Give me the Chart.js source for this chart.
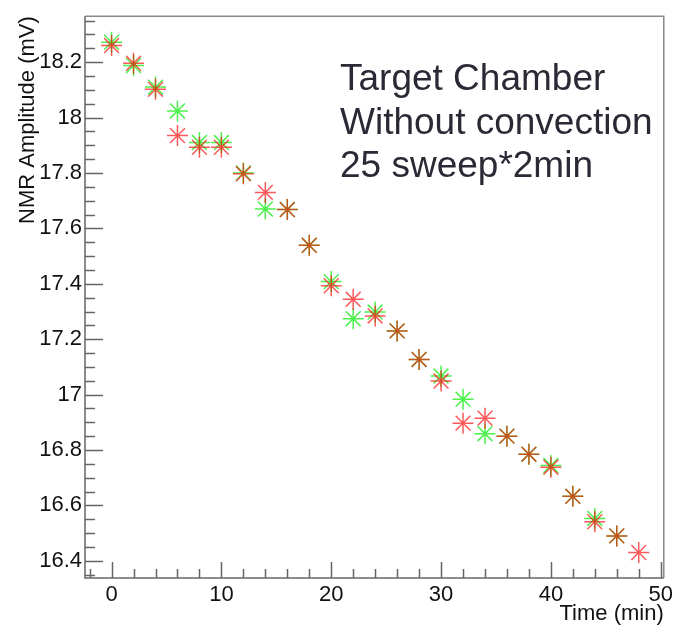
<!DOCTYPE html>
<html>
<head>
<meta charset="utf-8">
<script src="https://cdn.jsdelivr.net/npm/chart.js@4.4.0/dist/chart.umd.min.js"></script>
<style>
  body { margin: 0; background: #fff; }
  #wrap { width: 677px; height: 627px; }
</style>
</head>
<body>
<div id="wrap"><canvas id="myChart" width="677" height="627"></canvas></div>
<script>
// time points (min)
const timeGreen = [0, 2, 4, 6, 8, 10, 12, 14, 16, 18, 20, 22, 24, 26, 28, 30, 32, 34, 36, 38, 40, 42, 44, 46];
const timeRed = [0, 2, 4, 6, 8, 10, 12, 14, 16, 18, 20, 22, 24, 26, 28, 30, 32, 34, 36, 38, 40, 42, 44, 46, 48];
// NMR amplitude (mV)
const ampGreen = [18.272, 18.188, 18.110, 18.024, 17.910, 17.910, 17.800, 17.670, 17.668, 17.539, 17.408, 17.274,
  17.298, 17.230, 17.127, 17.067, 16.983, 16.859, 16.850, 16.785, 16.744, 16.633, 16.553, 16.490];
const ampRed = [18.260, 18.196, 18.102, 17.935, 17.893, 17.893, 17.797, 17.730, 17.668, 17.539, 17.393, 17.344,
  17.284, 17.230, 17.127, 17.049, 16.897, 16.915, 16.850, 16.785, 16.738, 16.633, 16.541, 16.490, 16.430];

const xTicks = [0, 10, 20, 30, 40, 50];
const yTicks = [16.4, 16.6, 16.8, 17, 17.2, 17.4, 17.6, 17.8, 18, 18.2];
const noteLines = ['Target Chamber', 'Without convection', '25 sweep*2min'];

const toPoints = (xs, ys) => xs.map((x, i) => ({ x: x, y: ys[i] }));

// ROOT-style frame with inward ticks
const frame = {
  id: 'frame',
  afterDraw(chart) {
    const ctx = chart.ctx;
    const a = chart.chartArea;
    const xs = chart.scales.x, ys = chart.scales.y;
    ctx.save();
    ctx.lineWidth = 1.5;
    ctx.strokeStyle = '#8a8a8a';
    ctx.beginPath();
    ctx.moveTo(a.left, a.top); ctx.lineTo(a.right, a.top); ctx.lineTo(a.right, a.bottom);
    ctx.stroke();
    ctx.strokeStyle = '#666';
    ctx.beginPath();
    ctx.moveTo(a.left, a.top); ctx.lineTo(a.left, a.bottom); ctx.lineTo(a.right, a.bottom);
    // y ticks
    for (let v = 16.35; v <= 18.36; v += 0.05) {
      const p = Math.round(ys.getPixelForValue(v)) + 0.5;
      const major = Math.abs(v * 5 - Math.round(v * 5)) < 0.01;
      ctx.moveTo(a.left, p); ctx.lineTo(a.left + (major ? 18 : 10), p);
    }
    // x ticks
    for (let v = -2; v <= 50; v += 2) {
      const p = Math.round(xs.getPixelForValue(v)) + 0.5;
      const major = v % 10 === 0;
      ctx.moveTo(p, a.bottom); ctx.lineTo(p, a.bottom - (major ? 16 : 9));
    }
    ctx.stroke();

    ctx.fillStyle = '#2a2a36';
    ctx.font = '37px "Liberation Sans", Arial, sans-serif';
    ctx.textBaseline = 'alphabetic';
    noteLines.forEach((t, i) => ctx.fillText(t, 340, 90 + i * 43.5));
    ctx.restore();
  }
};

new Chart(document.getElementById('myChart'), {
  type: 'scatter',
  data: {
    datasets: [{
      label: 'red',
      data: toPoints(timeRed, ampRed),
      pointStyle: 'star',
      pointRadius: 10.5,
      pointBorderWidth: 1.5,
      borderColor: 'rgba(255, 0, 0, 0.65)',
      backgroundColor: 'rgba(255, 0, 0, 0.65)'
    }, {
      label: 'green',
      data: toPoints(timeGreen, ampGreen),
      pointStyle: 'star',
      pointRadius: 10.5,
      pointBorderWidth: 1.5,
      borderColor: 'rgba(0, 235, 0, 0.7)',
      backgroundColor: 'rgba(0, 235, 0, 0.7)'
    }]
  },
  options: {
    responsive: false,
    animation: false,
    devicePixelRatio: 1,
    layout: { padding: { top: 12, right: 11, left: 0, bottom: 0 } },
    plugins: { legend: { display: false }, tooltip: { enabled: false } },
    scales: {
      x: {
        type: 'linear',
        min: -2.42,
        max: 50.28,
        grid: { display: false, drawTicks: false },
        border: { display: false },
        afterBuildTicks: s => { s.ticks = xTicks.map(v => ({ value: v })); },
        afterFit: s => { s.height = 49; },
        ticks: { color: '#111', padding: 4, maxRotation: 0, font: { size: 22, family: '"Liberation Sans", Arial, sans-serif' } },
        title: {
          display: true, text: 'Time (min)', align: 'end', color: '#111',
          padding: { top: 0, bottom: 0 },
          font: { size: 22, family: '"Liberation Sans", Arial, sans-serif' }
        }
      },
      y: {
        min: 16.338,
        max: 18.366,
        grid: { display: false, drawTicks: false },
        border: { display: false },
        afterBuildTicks: s => { s.ticks = yTicks.map(v => ({ value: v })); },
        afterFit: s => { s.width = 85; },
        ticks: {
          color: '#111', padding: 3,
          callback: v => String(Number(v.toFixed(1))),
          font: { size: 22, family: '"Liberation Sans", Arial, sans-serif' }
        },
        title: {
          display: true, text: 'NMR Amplitude (mV)', align: 'end', color: '#111',
          padding: { top: 15, bottom: 0 },
          font: { size: 22, family: '"Liberation Sans", Arial, sans-serif' }
        }
      }
    }
  },
  plugins: [frame]
});
</script>
</body>
</html>
